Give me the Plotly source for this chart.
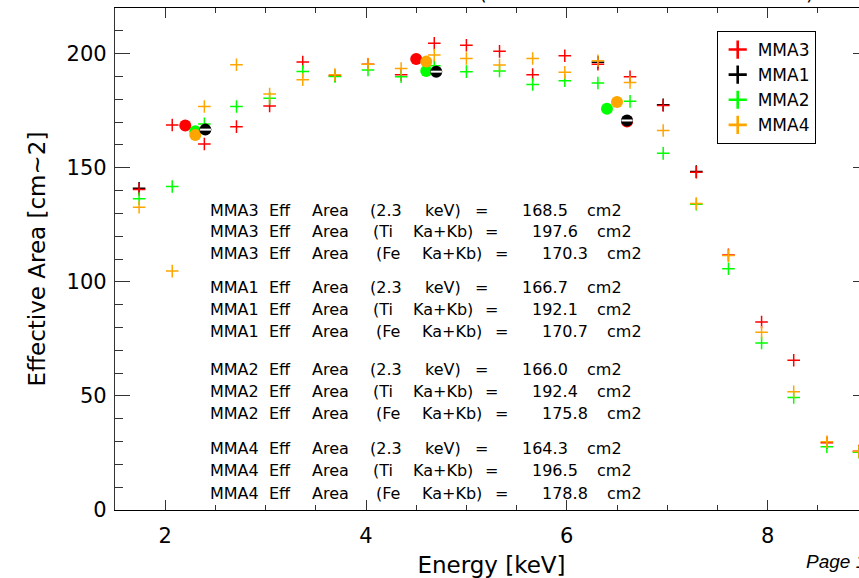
import plotly.graph_objects as go

# ---------------- data ----------------
energy_kev = [1.74, 2.07, 2.39, 2.71, 3.04, 3.37, 3.69, 4.02, 4.35, 4.68, 5.00, 5.33,
              5.66, 5.98, 6.31, 6.63, 6.96, 7.29, 7.61, 7.94, 8.26, 8.59, 8.91]

area_mma3 = [140.5, 168.7, 160.4, 168.0, 177.1, 196.3, 190.3, 195.3, 190.8, 204.5, 203.7, 201.0,
             190.8, 199.1, 195.4, 189.9, 177.3, 148.0, 111.8, 82.4, 65.6, 29.5, 25.8]
area_mma1 = [141.0, None, None, None, None, None, None, None, None, None, None, None,
             None, None, 196.2, None, 177.6, 148.3, None, None, None, None, None]
area_mma2 = [136.4, 141.8, 169.2, 176.8, 180.4, 192.2, 190.0, 192.8, 189.9, 194.7, 192.1, 192.4,
             186.5, 188.1, 187.1, 179.1, 156.3, 134.0, 105.7, 73.2, 49.3, 27.7, 25.3]
area_mma4 = [132.7, 104.7, 176.8, 195.1, 182.3, 188.6, 190.8, 195.4, 193.5, 199.4, 197.9, 195.0,
             197.9, 191.8, 196.9, 187.4, 166.3, 134.3, 111.5, 77.9, 51.8, 29.9, 25.6]

modules = ["MMA3", "MMA1", "MMA2", "MMA4"]
module_colors = ["#ff0000", "#000000", "#00ff00", "#ffa500"]
module_areas = [area_mma3, area_mma1, area_mma2, area_mma4]

line_labels = ["2.3 keV", "Ti Ka+Kb", "Fe Ka+Kb"]
# effective area at the three reference energies, per module (MMA3, MMA1, MMA2, MMA4)
eff_23kev = [168.5, 166.7, 166.0, 164.3]
eff_ti = [197.6, 192.1, 192.4, 196.5]
eff_fe = [170.3, 170.7, 175.8, 178.8]
# energies where those values are marked
x_23kev = [2.2, 2.4, 2.3, 2.3]
x_ti = [4.5, 4.7, 4.6, 4.6]
x_fe = [6.6, 6.6, 6.4, 6.5]

x_ticks = [2, 4, 6, 8]

# ---------------- geometry ----------------
W, H = 880, 578
L, T, R, B = 115, 8, 868, 510
X0, X1 = 1.5, 9.0
Y0, Y1 = 0, 220


def px_x(px):
    return (px - L) / (R - L)


def px_y(py):
    return (B - py) / (B - T)


FONT = "DejaVu Sans"
fig = go.Figure()

# cross markers, MMA1 drawn underneath
draw_order = [1, 0, 2, 3]
for i in draw_order:
    fig.add_trace(go.Scatter(
        x=energy_kev, y=module_areas[i], mode="markers", showlegend=False,
        marker=dict(symbol="cross-thin", size=9,
                    line=dict(color=module_colors[i], width=1.5)),
        hoverinfo="skip"))

# filled circles at the reference energies
for i in [0, 2, 3, 1]:
    fig.add_trace(go.Scatter(
        x=[x_23kev[i], x_ti[i], x_fe[i]],
        y=[eff_23kev[i], eff_ti[i], eff_fe[i]],
        mode="markers", showlegend=False,
        marker=dict(symbol="circle", size=12, color=module_colors[i],
                    line=dict(width=0)),
        hoverinfo="skip"))
# white bar across the MMA1 circles
fig.add_trace(go.Scatter(
    x=[x_23kev[1], x_ti[1], x_fe[1]],
    y=[eff_23kev[1], eff_ti[1], eff_fe[1]],
    mode="markers", showlegend=False,
    marker=dict(symbol="line-ew", size=8, line=dict(color="white", width=2)),
    hoverinfo="skip"))

# legend entries
for name, col in zip(modules, module_colors):
    fig.add_trace(go.Scatter(
        x=[None], y=[None], mode="markers", name=name,
        marker=dict(symbol="cross-thin", size=13, line=dict(color=col, width=2.6))))

# ---------------- text block ----------------
token_cols = [
    [234.5, 280, 330.5, 386, 443, 481.5, 544.5, 604],
    [234.5, 280, 330.5, 383, 442.5, 491.5, 554.5, 614.5],
    [234.5, 280, 330.5, 387.5, 451.5, 501.5, 564.5, 624.5],
]
group_rows = [[210, 231.7, 253], [287, 309, 331], [369, 391.7, 413], [448, 470, 493]]
eff_by_line = [eff_23kev, eff_ti, eff_fe]

annotations = []
for g, name in enumerate(modules):
    for k, lab in enumerate(line_labels):
        text = f"{name} Eff Area ({lab}) = {eff_by_line[k][g]:.1f} cm2"
        tokens = text.split()
        for tok, cx in zip(tokens, token_cols[k]):
            annotations.append(dict(
                x=px_x(cx), y=px_y(group_rows[g][k]), xref="paper", yref="paper",
                text=tok, showarrow=False, xanchor="center", yanchor="middle",
                font=dict(family=FONT, size=16, color="black")))

# page footer
annotations.append(dict(
    x=px_x(804), y=px_y(561), xref="paper", yref="paper", text="Page 1",
    showarrow=False, xanchor="left", yanchor="middle",
    font=dict(family="Liberation Sans", size=19, style="italic", color="black")))
# title brackets just above the frame
for cx, ch in [(483, "("), (810, ")")]:
    annotations.append(dict(
        x=px_x(cx), y=px_y(-7), xref="paper", yref="paper", text=ch,
        showarrow=False, xanchor="center", yanchor="middle",
        font=dict(family=FONT, size=20, color="black")))

fig.update_layout(
    width=W, height=H,
    margin=dict(l=L, r=W - R, t=T, b=H - B, pad=0, autoexpand=False),
    plot_bgcolor="white", paper_bgcolor="white",
    font=dict(family=FONT, color="black"),
    annotations=annotations,
    legend=dict(x=px_x(716.7), y=px_y(31), xanchor="left", yanchor="top",
                bordercolor="black", borderwidth=1, bgcolor="white",
                font=dict(family=FONT, size=17, color="black"),
                itemsizing="trace"),
)

fig.update_xaxes(
    range=[X0, X1], tickvals=x_ticks, ticktext=[str(v) for v in x_ticks],
    ticks="inside", ticklen=10, tickwidth=1, tickcolor="#333",
    minor=dict(dtick=0.5, tick0=0, ticks="inside", ticklen=5, tickcolor="#333", tickwidth=1),
    showline=True, linecolor="black", linewidth=1.3, mirror="ticks",
    showgrid=False, zeroline=False, automargin=False,
    tickfont=dict(family=FONT, size=21, color="black"), ticklabelstandoff=7,
    title=dict(text="Energy [keV]", font=dict(family=FONT, size=23, color="black"), standoff=16),
)
fig.update_yaxes(
    range=[Y0, Y1], tick0=0, dtick=50,
    ticks="inside", ticklen=15, tickwidth=1, tickcolor="#333",
    minor=dict(dtick=10, tick0=0, ticks="inside", ticklen=8, tickcolor="#333", tickwidth=1),
    showline=True, linecolor="#333", linewidth=1.3, mirror="ticks",
    showgrid=False, zeroline=False, automargin=False,
    tickfont=dict(family=FONT, size=21, color="black"), ticklabelstandoff=3,
    title=dict(text="Effective Area [cm~2]", font=dict(family=FONT, size=23, color="black"), standoff=14),
)

fig.write_html(
    "out.html",
    post_script="document.documentElement.style.overflow='hidden';document.body.style.overflow='hidden';",
)
